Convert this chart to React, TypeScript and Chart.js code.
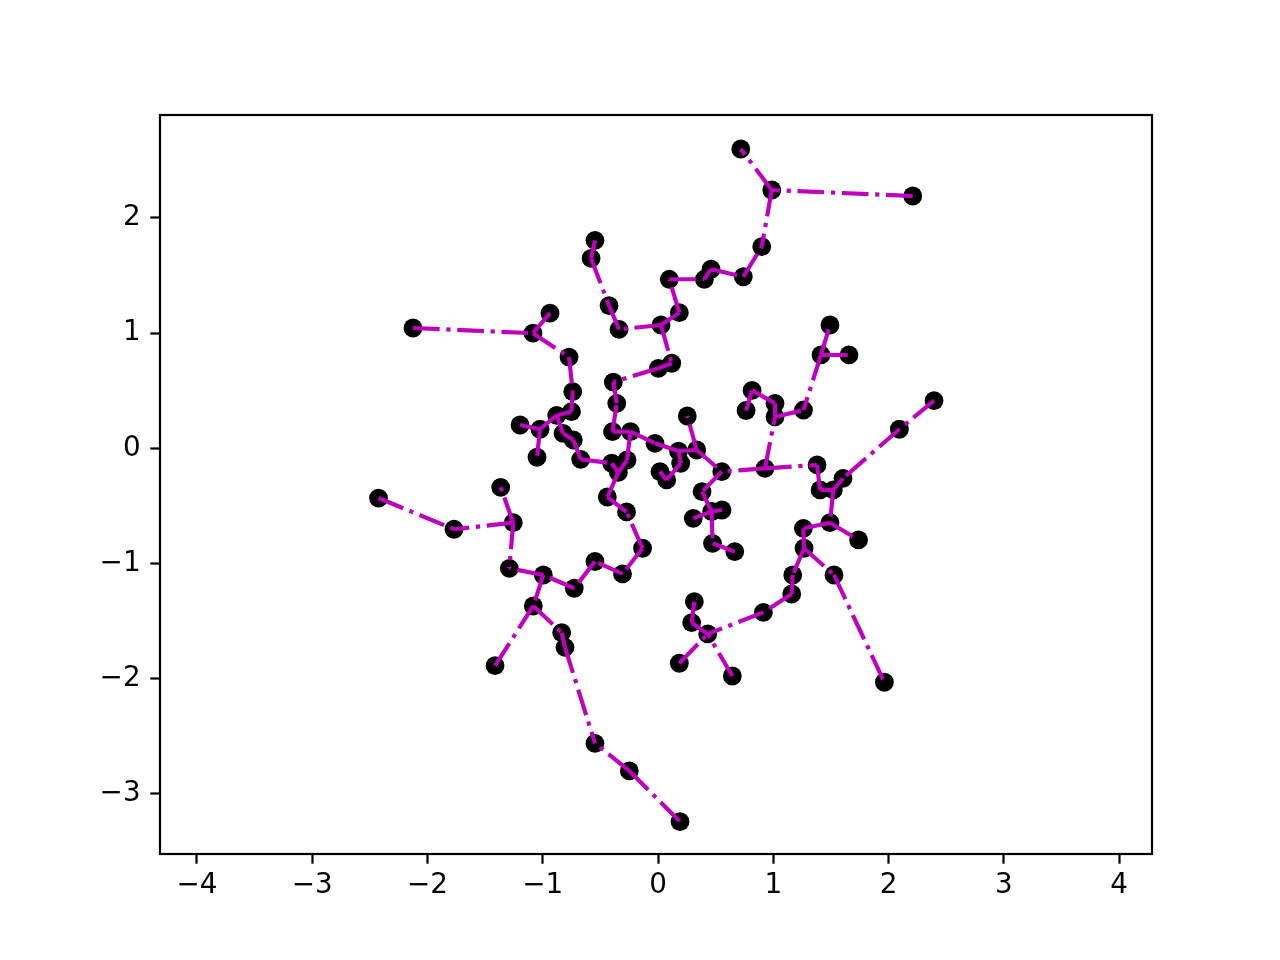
import React, { useEffect, useRef } from "react";
import { Chart, registerables } from "chart.js";

Chart.register(...registerables);

// Point coordinates (data units)
const pointX = [
  -2.126, -1.085, -0.937, -0.772, -0.547, -0.581, -0.425, -0.338, 0.718, 0.987,
  2.21, 0.9, 0.74, 0.46, 0.402, 0.098, 0.185, 0.026, 1.492, 1.414,
  1.657, 0.119, 0.003, -0.388, -0.74, -0.358, -0.751, -0.879, -1.197, -1.024,
  -1.05, -0.824, -0.735, -0.671, -0.395, -0.239, -0.402, -0.269, -0.344, -0.44,
  -0.273, -0.134, -0.308, -0.547, -0.727, -0.995, -1.29, -1.256, -1.365, -1.77,
  -2.425, -1.082, -1.414, -0.836, -0.807, -0.547, -0.249, 0.191, -0.026, 0.178,
  0.197, 0.017, 0.075, 0.336, 0.254, 0.553, 0.382, 0.466, 0.555, 0.306,
  0.473, 0.666, 0.928, 1.015, 1.015, 0.816, 0.764, 1.262, 1.38, 1.406,
  1.521, 1.605, 2.094, 2.395, 1.492, 1.261, 1.74, 1.267, 1.527, 1.964,
  1.169, 1.16, 0.914, 0.431, 0.292, 0.315, 0.185, 0.645,
];
const pointY = [
  1.045, 1.0, 1.174, 0.793, 1.806, 1.649, 1.24, 1.033, 2.599, 2.243,
  2.191, 1.751, 1.49, 1.555, 1.468, 1.468, 1.178, 1.071, 1.071, 0.811,
  0.811, 0.739, 0.695, 0.576, 0.492, 0.391, 0.319, 0.286, 0.203, 0.166,
  -0.077, 0.131, 0.073, -0.095, 0.145, 0.145, -0.129, -0.101, -0.209, -0.422,
  -0.552, -0.867, -1.09, -0.982, -1.214, -1.099, -1.041, -0.645, -0.338, -0.702,
  -0.431, -1.368, -1.886, -1.6, -1.727, -2.56, -2.8, -3.24, 0.044, -0.023,
  -0.129, -0.202, -0.274, -0.014, 0.281, -0.202, -0.376, -0.548, -0.535, -0.607,
  -0.824, -0.897, -0.173, 0.273, 0.391, 0.504, 0.329, 0.333, -0.144, -0.361,
  -0.361, -0.26, 0.166, 0.414, -0.645, -0.694, -0.795, -0.867, -1.099, -2.03,
  -1.099, -1.264, -1.424, -1.611, -1.513, -1.331, -1.865, -1.976,
];

// Tree edges (1-based point numbers; first = start of the dash pattern)
const edgeFrom = [
  1, 2, 2, 4, 25, 27, 28, 30, 30, 28, 32, 33, 34, 37, 38, 38, 36, 35, 26, 23,
  22, 18, 18, 8, 6, 5, 18, 17, 16, 15, 14, 13, 10, 10, 11,
  39, 40, 42, 42, 43, 44, 45, 46, 48, 48, 48, 51, 46, 52, 52, 54, 55, 57, 57,
  36, 59, 60, 60, 61, 63, 64, 64, 66, 67, 68, 68, 68, 71, 73, 73, 74, 75, 76, 74,
  20, 20, 20, 73, 79, 80, 81, 83, 84, 81, 85, 85, 86, 88, 89, 88, 91, 92, 93, 94,
  95, 97, 98,
];
const edgeTo = [
  2, 3, 4, 25, 27, 28, 30, 29, 31, 32, 33, 34, 37, 39, 39, 36, 35, 26, 24, 24,
  23, 22, 8, 7, 7, 6, 17, 16, 15, 14, 13, 12, 12, 9, 10,
  40, 41, 41, 43, 44, 45, 46, 47, 47, 49, 50, 50, 52, 53, 54, 55, 56, 56, 58,
  59, 60, 64, 61, 63, 62, 65, 66, 67, 68, 70, 69, 71, 72, 66, 74, 75, 76, 77, 78,
  78, 19, 21, 79, 80, 81, 82, 82, 83, 85, 86, 87, 88, 89, 90, 91, 92, 93, 94, 95,
  96, 94, 94,
];

const xTicks = [-4, -3, -2, -1, 0, 1, 2, 3, 4];
const yTicks = [-3, -2, -1, 0, 1, 2];
const xMin = -4.321;
const xMax = 4.286;
const yMin = -3.521;
const yMax = 2.894;

const fmt = (v: number) => (v < 0 ? "\u2212" + Math.abs(v) : String(v));

const framePlugin = {
  id: "frame",
  afterDraw(chart: any) {
    const { ctx, chartArea: a } = chart;
    ctx.save();
    ctx.strokeStyle = "#000";
    ctx.lineWidth = 2.2;
    ctx.strokeRect(a.left, a.top, a.right - a.left, a.bottom - a.top);
    ctx.restore();
  },
};

export default function App() {
  const ref = useRef<HTMLCanvasElement | null>(null);
  useEffect(() => {
    document.body.style.margin = "0";
    const canvas = ref.current;
    if (!canvas) return;
    const datasets: any[] = [];
    datasets.push({
      type: "scatter",
      data: pointX.map((x, i) => ({ x, y: pointY[i] })),
      pointRadius: 9.4,
      pointHoverRadius: 9.4,
      pointBackgroundColor: "#000",
      pointBorderWidth: 0,
      showLine: false,
      order: 1,
    });
    edgeFrom.forEach((f, k) => {
      const t = edgeTo[k];
      datasets.push({
        type: "scatter",
        data: [
          { x: pointX[f - 1], y: pointY[f - 1] },
          { x: pointX[t - 1], y: pointY[t - 1] },
        ],
        showLine: true,
        borderColor: "rgb(191,0,191)",
        borderWidth: 4.17,
        borderDash: [26.7, 6.7, 4.2, 6.7],
        borderCapStyle: "butt",
        pointRadius: 0,
        pointHoverRadius: 0,
        fill: false,
        tension: 0,
        order: 0,
      });
    });
    const tickFont = { family: "DejaVu Sans", size: 27.8 };
    const chart = new Chart(canvas, {
      type: "scatter",
      data: { datasets },
      options: {
        responsive: false,
        animation: false,
        events: [],
        layout: { padding: { left: 0, right: 128, top: 115, bottom: 46 } },
        plugins: { legend: { display: false }, tooltip: { enabled: false } },
        scales: {
          x: {
            type: "linear",
            min: xMin,
            max: xMax,
            afterBuildTicks: (s: any) => {
              s.ticks = xTicks.map((v) => ({ value: v }));
            },
            afterFit: (s: any) => {
              s.height = 60;
            },
            ticks: {
              autoSkip: false,
              maxRotation: 0,
              padding: 5,
              color: "#000",
              font: tickFont,
              callback: (v: any) => fmt(Number(v)),
            },
            grid: {
              display: true,
              drawOnChartArea: false,
              drawTicks: true,
              tickLength: 9.7,
              tickWidth: 2.2,
              tickColor: "#000",
              color: "#000",
            },
            border: { display: false },
          },
          y: {
            type: "linear",
            min: yMin,
            max: yMax,
            afterBuildTicks: (s: any) => {
              s.ticks = yTicks.map((v) => ({ value: v }));
            },
            afterFit: (s: any) => {
              s.width = 160;
            },
            ticks: {
              autoSkip: false,
              padding: 9.7,
              color: "#000",
              font: tickFont,
              callback: (v: any) => fmt(Number(v)),
            },
            grid: {
              display: true,
              drawOnChartArea: false,
              drawTicks: true,
              tickLength: 9.7,
              tickWidth: 2.2,
              tickColor: "#000",
              color: "#000",
            },
            border: { display: false },
          },
        },
      },
      plugins: [framePlugin],
    } as any);
    return () => chart.destroy();
  }, []);
  return (
    <canvas
      ref={ref}
      width={1280}
      height={960}
      style={{ display: "block", width: 1280, height: 960 }}
    />
  );
}
